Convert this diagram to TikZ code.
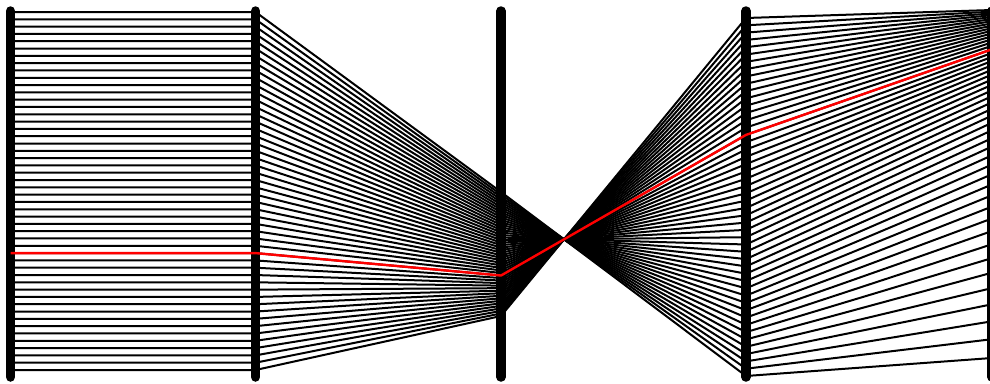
\documentclass[tikz,border=0pt]{standalone}
\usepackage{xcolor}
\usepackage{tikz}
\definecolor{pickred}{HTML}{FF0000}

% one record through the five axes, t in [0,1]
\newcommand{\pcrow}[2]{%
    \pgfmathsetmacro{\ya}{12+358*#1}
    \pgfmathsetmacro{\yc}{192+124*#1}
    \pgfmathsetmacro{\yd}{376-358*#1}
    \pgfmathsetmacro{\ye}{10+348*(exp(-2.5*#1)-exp(-2.5))/(1-exp(-2.5))}
    \draw[#2] (axA |- 0,\ya) -- (axB |- 0,\ya) -- (axC |- 0,\yc) -- (axD |- 0,\yd) -- (axE |- 0,\ye);
}

\begin{document}
\begin{tikzpicture}[x=1pt, y=-1pt,
    axisbar/.style={line width=9.5pt, line cap=round, black},
    dataline/.style={line width=2pt, black, line join=round},
    pickline/.style={line width=2.4pt, pickred, line join=round}]
    \useasboundingbox (0,0) rectangle (990,383);

    \coordinate (axA) at (10.5,0);
    \coordinate (axB) at (255.5,0);
    \coordinate (axC) at (501,0);
    \coordinate (axD) at (746,0);
    \coordinate (axE) at (992,0);

    % axes
    \foreach \ax in {axA,axB,axC,axD,axE}
        \draw[axisbar] (\ax |- 0,11) -- (\ax |- 0,377);

    % records
    \foreach \i in {0,...,49} {
        \pgfmathsetmacro{\t}{\i/49}
        \pcrow{\t}{dataline}
    }

    % highlighted record
    \pcrow{33/49}{pickline}
\end{tikzpicture}
\end{document}
